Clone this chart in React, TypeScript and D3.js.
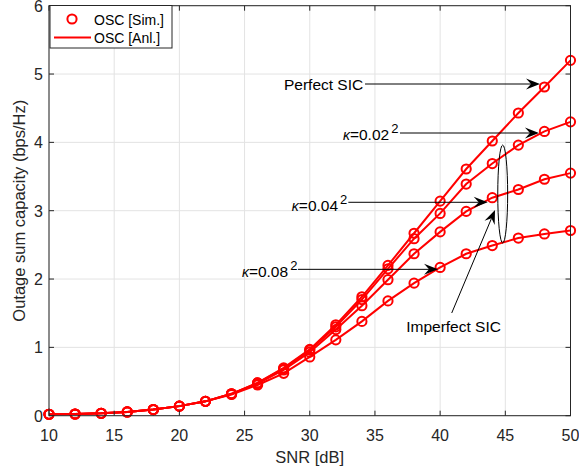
import React from "react";
import * as d3 from "d3";

const snr = [10, 12, 14, 16, 18, 20, 22, 24, 26, 28, 30, 32, 34, 36, 38, 40, 42, 44, 46, 48, 50];
const perfectSIC = [0.02, 0.025, 0.035, 0.055, 0.09, 0.14, 0.21, 0.32, 0.48, 0.70, 0.97, 1.33, 1.74, 2.20, 2.67, 3.14, 3.61, 4.02, 4.43, 4.81, 5.20];
const kappa002 = [0.02, 0.025, 0.035, 0.055, 0.09, 0.14, 0.21, 0.32, 0.48, 0.69, 0.96, 1.30, 1.70, 2.15, 2.59, 2.96, 3.39, 3.69, 3.96, 4.16, 4.30];
const kappa004 = [0.02, 0.025, 0.035, 0.055, 0.09, 0.14, 0.21, 0.32, 0.47, 0.67, 0.93, 1.26, 1.61, 1.99, 2.37, 2.69, 2.99, 3.19, 3.31, 3.46, 3.55];
const kappa008 = [0.02, 0.025, 0.035, 0.055, 0.09, 0.14, 0.21, 0.31, 0.45, 0.62, 0.86, 1.11, 1.38, 1.68, 1.94, 2.17, 2.37, 2.49, 2.60, 2.66, 2.71];
const seriesList = [perfectSIC, kappa002, kappa004, kappa008];

const xTicks = [10, 15, 20, 25, 30, 35, 40, 45, 50];
const yTicks = [0, 1, 2, 3, 4, 5, 6];
const legendLabels = ["OSC [Sim.]", "OSC [Anl.]"];
const xLabel = "SNR [dB]";
const yLabel = "Outage sum capacity (bps/Hz)";

const W = 579, H = 472;
const L = 49, R = 570.5, T = 5.7, B = 415.7;
const FONT = "'Liberation Sans', Arial, Helvetica, sans-serif";
const AX = "#262626";
const RED = "#ff0000";

const x = d3.scaleLinear().domain([10, 50]).range([L, R]);
const y = d3.scaleLinear().domain([0, 6]).range([B, T]);

function Arrow({ x1, y1, x2, y2 }: { x1: number; y1: number; x2: number; y2: number }) {
  const px1 = x(x1), py1 = y(y1), px2 = x(x2), py2 = y(y2);
  const ang = Math.atan2(py2 - py1, px2 - px1);
  const hl = 14, hw = 5.5, notch = 9;
  const c = Math.cos(ang), s = Math.sin(ang);
  const pt = (a: number, b: number) => [px2 + a * c - b * s, py2 + a * s + b * c];
  const p1 = pt(-hl, -hw), p2 = pt(-notch, 0), p3 = pt(-hl, hw);
  const lineEnd = pt(-notch, 0);
  return (
    <g>
      <line x1={px1} y1={py1} x2={lineEnd[0]} y2={lineEnd[1]} stroke="#000" strokeWidth={1} />
      <path d={`M${px2},${py2}L${p1[0]},${p1[1]}L${p2[0]},${p2[1]}L${p3[0]},${p3[1]}Z`} fill="#000" />
    </g>
  );
}

function KappaLabel({ xv, yv, base }: { xv: number; yv: number; base: string }) {
  return (
    <text x={x(xv)} y={y(yv)} textAnchor="end" fontFamily={FONT} fontSize={15.5} fill="#000">
      <tspan fontStyle="italic" fontSize={14}>κ</tspan>
      <tspan>{"=" + base}</tspan>
      <tspan dx={2} dy={-7} fontSize={13}>2</tspan>
    </text>
  );
}

export default function App() {
  const line = d3.line<number>().x((_, i) => x(snr[i])).y((d) => y(d));
  return (
    <svg width={W} height={H} style={{ position: "absolute", left: 0, top: 0, background: "#fff" }}>
      <rect x={0} y={0} width={W} height={H} fill="#fff" />
      {/* grid */}
      {xTicks.map((t) => (
        <line key={"gx" + t} x1={x(t)} x2={x(t)} y1={T} y2={B} stroke="#e3e3e3" strokeWidth={1} />
      ))}
      {yTicks.map((t) => (
        <line key={"gy" + t} x1={L} x2={R} y1={y(t)} y2={y(t)} stroke="#e3e3e3" strokeWidth={1} />
      ))}
      {/* series */}
      {seriesList.map((s, k) => (
        <path key={"l" + k} d={line(s) || ""} fill="none" stroke={RED} strokeWidth={2} />
      ))}
      {seriesList.map((s, k) => (
        <g key={"m" + k}>
          {s.map((v, i) => (
            <circle key={i} cx={x(snr[i])} cy={y(v)} r={4.6} fill="none" stroke={RED} strokeWidth={2} />
          ))}
        </g>
      ))}
      {/* axes box */}
      <rect x={L} y={T} width={R - L} height={B - T} fill="none" stroke={AX} strokeWidth={1} />
      {xTicks.map((t) => (
        <g key={"tx" + t}>
          <line x1={x(t)} x2={x(t)} y1={B} y2={B - 5} stroke={AX} />
          <line x1={x(t)} x2={x(t)} y1={T} y2={T + 5} stroke={AX} />
          <text x={x(t)} y={441} textAnchor="middle" fontFamily={FONT} fontSize={16} fill={AX}>{t}</text>
        </g>
      ))}
      {yTicks.map((t) => (
        <g key={"ty" + t}>
          <line x1={L} x2={L + 5} y1={y(t)} y2={y(t)} stroke={AX} />
          <line x1={R} x2={R - 5} y1={y(t)} y2={y(t)} stroke={AX} />
          <text x={43} y={y(t) + 6} textAnchor="end" fontFamily={FONT} fontSize={16} fill={AX}>{t}</text>
        </g>
      ))}
      <text x={(L + R) / 2} y={463} textAnchor="middle" fontFamily={FONT} fontSize={16.5} fill={AX}>{xLabel}</text>
      <text transform={`translate(24.5,${(T + B) / 2}) rotate(-90)`} textAnchor="middle" fontFamily={FONT} fontSize={16.5} fill={AX}>{yLabel}</text>

      {/* annotations */}
      <text x={x(34.1)} y={y(4.76)} textAnchor="end" fontFamily={FONT} fontSize={15.5} fill="#000">Perfect SIC</text>
      <Arrow x1={34.24} y1={4.854} x2={47.66} y2={4.854} />
      <KappaLabel xv={36.8} yv={4.03} base="0.02" />
      <Arrow x1={36.92} y1={4.137} x2={47.58} y2={4.137} />
      <KappaLabel xv={32.88} yv={3.0} base="0.04" />
      <Arrow x1={32.96} y1={3.123} x2={43.65} y2={3.123} />
      <KappaLabel xv={29.05} yv={2.03} base="0.08" />
      <Arrow x1={29.1} y1={2.142} x2={39.84} y2={2.142} />
      <ellipse cx={x(44.8)} cy={y(3.244)} rx={x(44.8 + 0.38) - x(44.8)} ry={y(3.244 - 0.717) - y(3.244)} fill="none" stroke="#000" strokeWidth={1} />
      <Arrow x1={40.89} y1={1.503} x2={44.21} y2={3.01} />
      <text x={x(41.03)} y={y(1.225)} textAnchor="middle" fontFamily={FONT} fontSize={15.5} fill="#000">Imperfect SIC</text>

      {/* legend */}
      <rect x={50} y={5.5} width={122} height={42.5} fill="#fff" stroke={AX} strokeWidth={1} />
      <circle cx={72} cy={19} r={4.6} fill="none" stroke={RED} strokeWidth={2} />
      <text x={94} y={24.5} fontFamily={FONT} fontSize={14} fill="#000">{legendLabels[0]}</text>
      <line x1={54} x2={91} y1={37.5} y2={37.5} stroke={RED} strokeWidth={2} />
      <text x={94} y={43} fontFamily={FONT} fontSize={14} fill="#000">{legendLabels[1]}</text>
    </svg>
  );
}
